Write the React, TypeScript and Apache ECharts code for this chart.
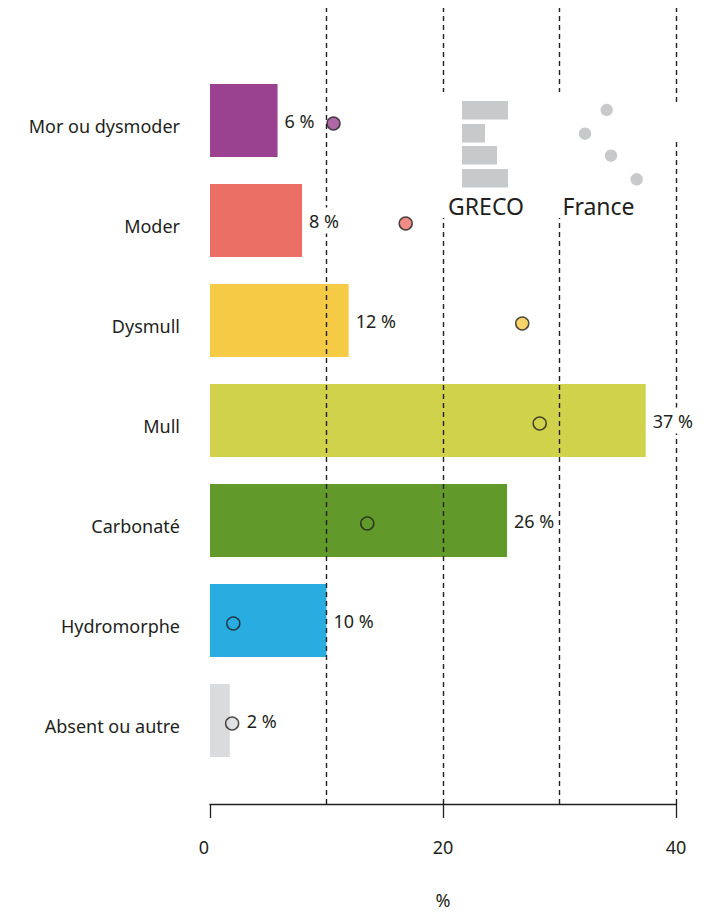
import React, { useEffect, useRef } from 'react';
import * as echarts from 'echarts';

const categories = ['Mor ou dysmoder', 'Moder', 'Dysmull', 'Mull', 'Carbonaté', 'Hydromorphe', 'Absent ou autre'];
const grecoValues = [5.8, 7.9, 11.9, 37.4, 25.5, 10.0, 1.7];
const franceValues = [10.6, 16.8, 26.8, 28.3, 13.5, 2.0, 1.9];
const axisTicks = [0, 20, 40];
const guideValues = [10, 20, 30, 40];
const legendGreco = 'GRECO';
const legendFrance = 'France';
const axisName = '%';

const palette = ['#9a4290', '#ec6f66', '#f5ca45', '#d0d24b', '#619a2b', '#29acdf', '#dadbdd'];
const INK = '#231f20';
const FONT = 'Noto Sans';
const LEG = '#c8c9ca';

function buildOption() {
  const xMin = axisTicks[0];
  const xMax = axisTicks[axisTicks.length - 1];
  const step = axisTicks[1] - axisTicks[0];
  return {
    animation: false,
    backgroundColor: '#fff',
    textStyle: { fontFamily: FONT, color: INK },
    grid: [
      { left: 210, right: 35, top: 70.5, height: 700, containLabel: false },
      { left: 210, right: 35, top: 8, height: 800, containLabel: false },
    ],
    xAxis: [
      { gridIndex: 0, type: 'value', min: xMin, max: xMax, show: false },
      {
        gridIndex: 1,
        type: 'value',
        min: xMin,
        max: xMax,
        interval: step,
        position: 'bottom',
        axisLine: { show: true, lineStyle: { color: INK, width: 1.3 } },
        axisTick: { show: true, length: 14, inside: false, lineStyle: { color: INK, width: 1.3 } },
        splitLine: { show: false },
        axisLabel: {
          margin: 34,
          fontSize: 18,
          fontFamily: FONT,
          color: INK,
          formatter: (v: number) => (v === xMin ? '{a|' + v + '}' : String(v)),
          rich: { a: { padding: [0, 12, 0, 0], fontSize: 18, fontFamily: FONT, color: INK } },
        },
        name: axisName,
        nameLocation: 'middle',
        nameGap: 87,
        nameTextStyle: { fontSize: 18, fontFamily: FONT, color: INK },
      },
    ],
    yAxis: [
      {
        gridIndex: 0,
        type: 'category',
        inverse: true,
        data: categories,
        axisLine: { show: false },
        axisTick: { show: false },
        splitLine: { show: false },
        axisLabel: {
          margin: 30,
          fontSize: 18,
          fontFamily: FONT,
          color: INK,
          verticalAlign: 'top',
          lineHeight: 10,
        },
      },
      { gridIndex: 1, type: 'value', min: 0, max: 1, show: false },
    ],
    series: [
      {
        type: 'bar',
        xAxisIndex: 0,
        yAxisIndex: 0,
        barWidth: 73,
        z: 2,
        data: grecoValues.map((v, i) => ({ value: v, itemStyle: { color: palette[i] } })),
      },
      {
        type: 'scatter',
        xAxisIndex: 1,
        yAxisIndex: 1,
        data: [[0, 0]],
        symbolSize: 0,
        silent: true,
        markLine: {
          silent: true,
          symbol: 'none',
          z: 5,
          label: { show: false },
          lineStyle: { color: INK, type: [5, 4], width: 1.4 },
          data: guideValues.map((g) => ({ xAxis: g })),
        },
      },
      {
        type: 'bar',
        xAxisIndex: 0,
        yAxisIndex: 0,
        barWidth: 73,
        barGap: '-100%',
        z: 6,
        itemStyle: { color: 'rgba(0,0,0,0)' },
        data: grecoValues.map((v, i) => {
          const clash = Math.abs(franceValues[i] - v) < 1;
          return {
            value: v,
            label: {
              show: true,
              position: 'right',
              distance: clash ? 16 : 6,
              formatter: () => Math.round(v) + ' %',
              fontSize: 18,
              fontFamily: FONT,
              color: INK,
              backgroundColor: '#fff',
              padding: [4, 1, 4, 1],
            },
          };
        }),
      },
      {
        type: 'scatter',
        xAxisIndex: 0,
        yAxisIndex: 0,
        z: 7,
        symbol: 'circle',
        symbolSize: 13,
        symbolOffset: [0, 3],
        data: franceValues.map((v, i) => ({
          value: [v, i],
          itemStyle: { color: palette[i], borderColor: INK, borderWidth: 1.5 },
        })),
      },
    ],
    graphic: [
      { type: 'rect', z: 10, shape: { x: 437, y: 92, width: 12, height: 126 }, style: { fill: '#fff' } },
      { type: 'rect', z: 10, shape: { x: 554, y: 92, width: 11, height: 126 }, style: { fill: '#fff' } },
      { type: 'rect', z: 10, shape: { x: 670, y: 102, width: 12, height: 39 }, style: { fill: '#fff' } },
      { type: 'rect', z: 11, shape: { x: 462, y: 101, width: 46, height: 18.5 }, style: { fill: LEG } },
      { type: 'rect', z: 11, shape: { x: 462, y: 124, width: 23, height: 18.5 }, style: { fill: LEG } },
      { type: 'rect', z: 11, shape: { x: 462, y: 146, width: 35, height: 18.5 }, style: { fill: LEG } },
      { type: 'rect', z: 11, shape: { x: 462, y: 169, width: 46, height: 18.5 }, style: { fill: LEG } },
      { type: 'circle', z: 11, shape: { cx: 606.7, cy: 110, r: 6.2 }, style: { fill: LEG } },
      { type: 'circle', z: 11, shape: { cx: 585, cy: 133.7, r: 6.2 }, style: { fill: LEG } },
      { type: 'circle', z: 11, shape: { cx: 611, cy: 155.7, r: 6.2 }, style: { fill: LEG } },
      { type: 'circle', z: 11, shape: { cx: 636.7, cy: 179.3, r: 6.2 }, style: { fill: LEG } },
      {
        type: 'text',
        z: 11,
        x: 486,
        y: 206,
        style: { text: legendGreco, fill: INK, font: '23px "Noto Sans"', textAlign: 'center', textVerticalAlign: 'middle' },
      },
      {
        type: 'text',
        z: 11,
        x: 598.5,
        y: 206,
        style: { text: legendFrance, fill: INK, font: '23px "Noto Sans"', textAlign: 'center', textVerticalAlign: 'middle' },
      },
    ],
  };
}

export default function App() {
  const ref = useRef<HTMLDivElement>(null);
  useEffect(() => {
    document.body.style.margin = '0';
    const chart = echarts.init(ref.current as HTMLDivElement, null, { renderer: 'svg' });
    chart.setOption(buildOption() as any);
    return () => chart.dispose();
  }, []);
  return <div ref={ref} style={{ width: 711, height: 914 }} />;
}
